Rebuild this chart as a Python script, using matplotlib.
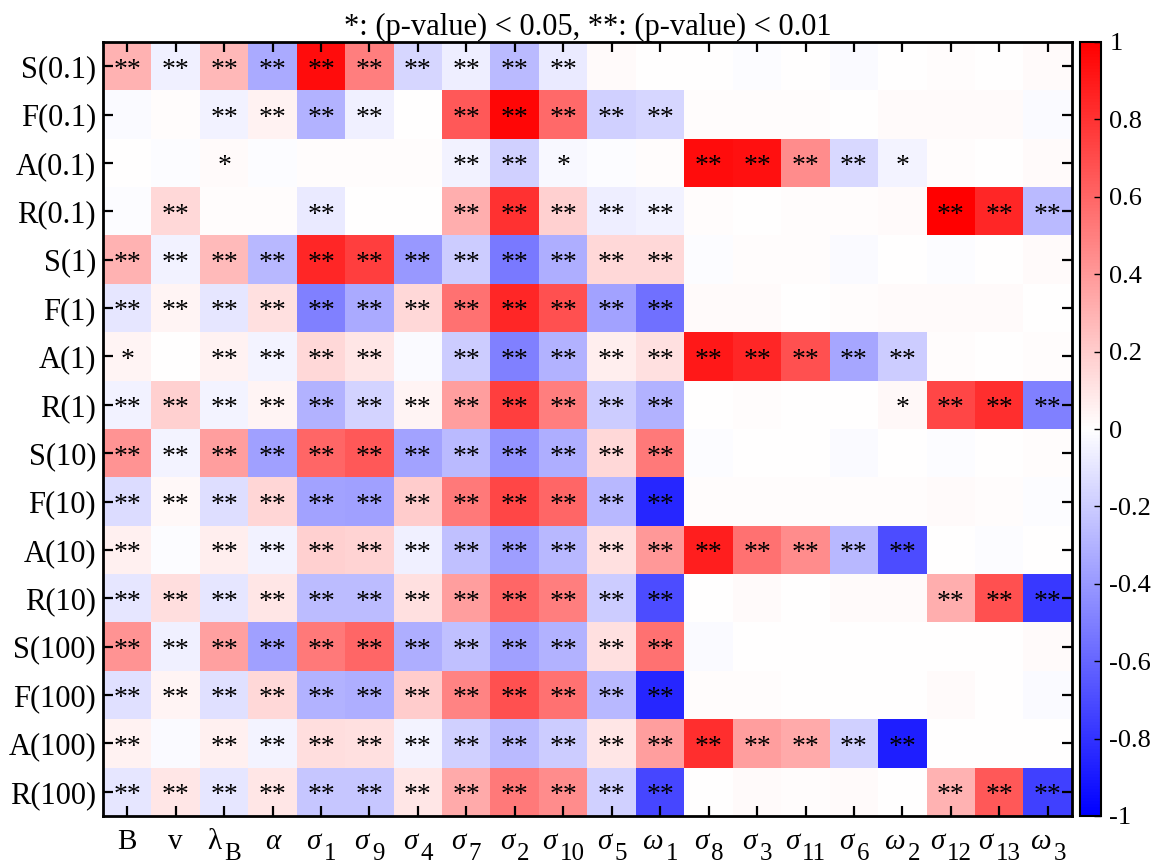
import numpy as np
import matplotlib
matplotlib.use("Agg")
import matplotlib.pyplot as plt
from matplotlib.ticker import FuncFormatter

plt.rcParams['font.family'] = ['Liberation Serif', 'DejaVu Serif']
plt.rcParams['axes.unicode_minus'] = False

row_labels = ['S(0.1)', 'F(0.1)', 'A(0.1)', 'R(0.1)',
              'S(1)', 'F(1)', 'A(1)', 'R(1)',
              'S(10)', 'F(10)', 'A(10)', 'R(10)',
              'S(100)', 'F(100)', 'A(100)', 'R(100)']
# column labels: main symbol + subscript
col_main = ['B', 'v', 'λ', 'α', 'σ', 'σ', 'σ', 'σ', 'σ', 'σ', 'σ', 'ω',
            'σ', 'σ', 'σ', 'σ', 'ω', 'σ', 'σ', 'ω']
col_sub = ['', '', 'B', '', '1', '9', '4', '7', '2', '10', '5', '1',
           '8', '3', '11', '6', '2', '12', '13', '3']
col_italic = [False, False, False, True, True, True, True, True, True, True, True, True,
              True, True, True, True, True, True, True, True]

# correlation values, one list per row (20 columns)
r_S01 = [0.30, -0.06, 0.28, -0.33, 0.95, 0.50, -0.16, -0.07, -0.27, -0.08, 0.02, 0.00, 0.00, -0.01, 0.00, -0.02, 0.00, 0.01, 0.00, 0.02]
r_F01 = [-0.02, 0.01, -0.05, 0.05, -0.30, -0.06, 0.00, 0.65, 0.97, 0.58, -0.18, -0.16, 0.01, 0.01, 0.01, 0.00, 0.02, 0.02, 0.02, -0.02]
r_A01 = [0.00, -0.01, 0.02, -0.01, 0.01, 0.01, 0.01, -0.05, -0.18, -0.03, -0.01, 0.01, 0.95, 0.93, 0.45, -0.15, -0.04, 0.01, 0.00, 0.02]
r_R01 = [-0.01, 0.15, 0.01, 0.01, -0.08, 0.00, 0.00, 0.32, 0.80, 0.18, -0.07, -0.05, 0.01, 0.00, 0.01, 0.01, 0.02, 1.00, 0.85, -0.27]
r_S1 = [0.30, -0.05, 0.27, -0.28, 0.85, 0.75, -0.40, -0.20, -0.52, -0.32, 0.15, 0.15, -0.01, 0.01, 0.01, -0.02, 0.00, -0.01, 0.00, 0.02]
r_F1 = [-0.10, 0.04, -0.10, 0.12, -0.50, -0.33, 0.15, 0.55, 0.85, 0.68, -0.36, -0.56, 0.02, 0.02, 0.00, 0.01, 0.02, 0.02, 0.02, 0.00]
r_A1 = [0.04, 0.00, 0.05, -0.04, 0.15, 0.10, -0.02, -0.20, -0.50, -0.30, 0.07, 0.12, 0.90, 0.85, 0.68, -0.35, -0.20, 0.01, 0.00, 0.01]
r_R1 = [-0.05, 0.18, -0.04, 0.04, -0.30, -0.17, 0.04, 0.38, 0.75, 0.50, -0.20, -0.30, 0.00, 0.01, 0.00, 0.00, 0.03, 0.72, 0.82, -0.50]
r_S10 = [0.42, -0.04, 0.38, -0.37, 0.60, 0.65, -0.36, -0.27, -0.42, -0.32, 0.15, 0.52, -0.01, 0.00, 0.00, -0.02, 0.00, -0.01, 0.00, 0.01]
r_F10 = [-0.14, 0.03, -0.13, 0.16, -0.36, -0.37, 0.20, 0.52, 0.72, 0.60, -0.28, -0.85, 0.01, 0.01, 0.01, 0.01, 0.01, 0.02, 0.01, -0.01]
r_A10 = [0.06, -0.01, 0.07, -0.05, 0.18, 0.17, -0.06, -0.25, -0.38, -0.28, 0.12, 0.40, 0.88, 0.55, 0.45, -0.28, -0.70, 0.00, -0.01, 0.00]
r_R10 = [-0.10, 0.13, -0.10, 0.10, -0.26, -0.26, 0.12, 0.38, 0.60, 0.50, -0.20, -0.70, 0.00, 0.02, 0.00, 0.02, 0.02, 0.32, 0.68, -0.78]
r_S100 = [0.42, -0.06, 0.37, -0.37, 0.52, 0.60, -0.32, -0.25, -0.37, -0.30, 0.12, 0.55, -0.02, 0.00, 0.00, 0.00, 0.00, 0.00, 0.00, 0.02]
r_F100 = [-0.12, 0.04, -0.12, 0.15, -0.30, -0.32, 0.20, 0.48, 0.68, 0.55, -0.28, -0.85, 0.01, 0.01, 0.00, 0.00, 0.00, 0.02, 0.00, -0.02]
r_A100 = [0.05, -0.02, 0.06, -0.04, 0.13, 0.12, -0.04, -0.18, -0.27, -0.20, 0.10, 0.38, 0.82, 0.38, 0.33, -0.18, -0.88, 0.00, 0.00, 0.00]
r_R100 = [-0.10, 0.10, -0.10, 0.10, -0.22, -0.22, 0.10, 0.33, 0.52, 0.45, -0.18, -0.72, 0.00, 0.02, 0.01, 0.02, 0.00, 0.30, 0.65, -0.75]

# significance: 0 = none, 1 = *, 2 = **
s_S01 = "22222222220000000000"
s_F01 = "00222202222200000000"
s_A01 = "00100002210022221000"
s_R01 = "02002002222200000222"
s_S1 = "22222222222200000000"
s_F1 = "22222222222200000000"
s_A1 = "10222202222222222000"
s_R1 = "22222222222200001222"
s_S10 = "22222222222200000000"
s_F10 = "22222222222200000000"
s_A10 = "20222222222222222000"
s_R10 = "22222222222200000222"
s_S100 = "22222222222200000000"
s_F100 = "22222222222200000000"
s_A100 = "20222222222222222000"
s_R100 = "22222222222200000222"

data = np.array([r_S01, r_F01, r_A01, r_R01, r_S1, r_F1, r_A1, r_R1,
                 r_S10, r_F10, r_A10, r_R10, r_S100, r_F100, r_A100, r_R100])
sig = [s_S01, s_F01, s_A01, s_R01, s_S1, s_F1, s_A1, s_R1,
       s_S10, s_F10, s_A10, s_R10, s_S100, s_F100, s_A100, s_R100]

W, H = 1153, 867
fig = plt.figure(figsize=(W / 100, H / 100), dpi=100)
ax = fig.add_axes([103 / W, 1 - 816 / H, (1072 - 103) / W, (816 - 42) / H])
im = ax.imshow(data, cmap='bwr', vmin=-1, vmax=1, aspect='auto', interpolation='nearest')

marks = {'0': '', '1': '*', '2': '**'}
for i, srow in enumerate(sig):
    for j, c in enumerate(srow):
        t = marks[c]
        if t:
            ax.text(j, i + 0.08, t, ha='center', va='center', fontsize=20, color='black')

ax.set_xticks(np.arange(len(col_main)))
ax.set_xticklabels([])
ax.set_yticks(np.arange(len(row_labels)))
ax.set_yticklabels(row_labels, fontsize=22)
ax.tick_params(direction='in', length=7, width=1.6, top=True, right=True)
ax.tick_params(axis='y', pad=5)
for sp in ax.spines.values():
    sp.set_linewidth(2)
ax.set_title('*: (p-value) < 0.05, **: (p-value) < 0.01', fontsize=22, pad=4)

# x labels: main symbol with a large, lowered subscript
renderer = fig.canvas.get_renderer()
xform = ax.get_xaxis_transform()
gap = 3
base_main, base_sub = -33, -44
for j, (m, s, it) in enumerate(zip(col_main, col_sub, col_italic)):
    tm = ax.annotate(m, xy=(j, 0), xycoords=xform, xytext=(0, base_main), textcoords='offset pixels',
                     ha='left', va='baseline', fontsize=21, style='italic' if it else 'normal')
    wm = tm.get_window_extent(renderer).width
    if s:
        ts = ax.annotate(s, xy=(j, 0), xycoords=xform, xytext=(0, base_sub), textcoords='offset pixels',
                         ha='left', va='baseline', fontsize=18)
        ws = ts.get_window_extent(renderer).width
        total = wm + gap + ws
        tm.xyann = (-total / 2, base_main)
        ts.xyann = (-total / 2 + wm + gap, base_sub)
    else:
        tm.xyann = (-wm / 2, base_main)

cax = fig.add_axes([1080 / W, 1 - 816 / H, 21 / W, (816 - 42) / H])
cb = fig.colorbar(im, cax=cax, ticks=np.linspace(-1, 1, 11))
cb.ax.yaxis.set_major_formatter(FuncFormatter(lambda v, p: f"{round(v, 1):g}" if abs(v) > 1e-9 else "0"))
cb.ax.tick_params(direction='in', length=5, width=1, labelsize=19, pad=6)
cb.outline.set_linewidth(1.5)

fig.savefig('out.png', dpi=100)
